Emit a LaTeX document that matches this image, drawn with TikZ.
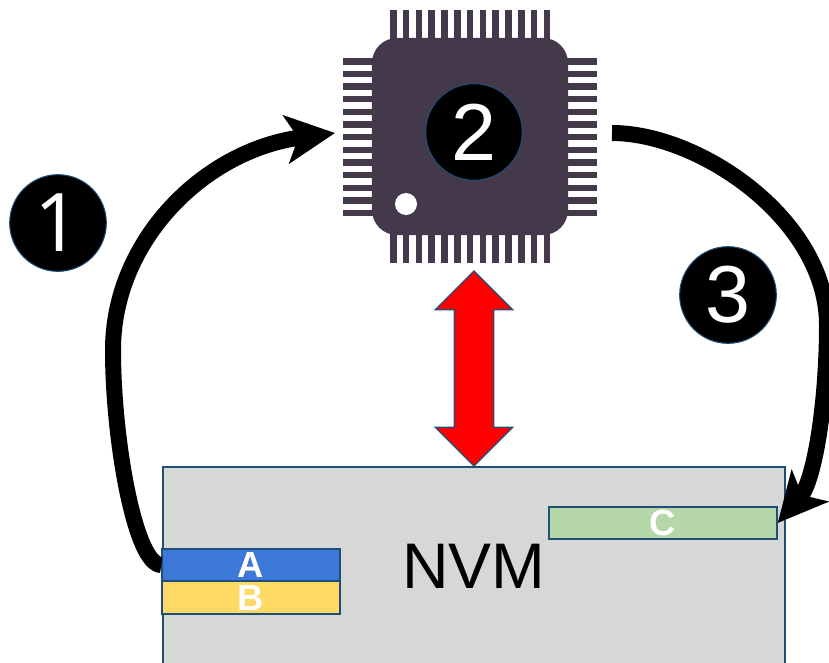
\documentclass[tikz,border=0pt]{standalone}
\usepackage{fontspec}
\setmainfont{Liberation Sans}
\newfontfamily\onefont{Open Sans}
\usepackage{xcolor}
\usetikzlibrary{arrows.meta,shapes.arrows}
\definecolor{edgeblue}{HTML}{1F4E79}
\definecolor{chipgray}{HTML}{43394A}
\definecolor{nvmgray}{HTML}{D6D8D5}
\definecolor{boxa}{HTML}{3C78D8}
\definecolor{boxb}{HTML}{FFD966}
\definecolor{boxc}{HTML}{B6D7A8}
\tikzset{
  numcirc/.style={circle,draw=edgeblue,line width=0.9pt,fill=black,text=white,minimum size=2.9cm,inner sep=0pt,font=\fontsize{69}{69}\selectfont},
  memrow/.style={rectangle,draw=edgeblue,line width=1.2pt,text=white,inner sep=0pt,font=\fontsize{31}{31}\selectfont\bfseries},
  flow/.style={line width=0.48cm,-{Stealth[length=1.47cm,width=1.44cm,inset=0.36cm]}},
}
\begin{document}
\begin{tikzpicture}[x=0.03cm,y=-0.03cm]
\useasboundingbox (0,0) rectangle (829,662);
\clip (0,0) rectangle (829,662);
\node [rectangle,draw=edgeblue,line width=1.2pt,fill=nvmgray,minimum width=18.66cm,minimum height=5.94cm,inner sep=0pt,font=\fontsize{55}{55}\selectfont] (nvm) at (474,566) {NVM};
\node [memrow,fill=boxa,minimum width=5.34cm,minimum height=0.96cm] (a) at (251,565) {A};
\node [memrow,fill=boxb,minimum width=5.34cm,minimum height=0.99cm] (b) at (251,597.5) {B};
\node [memrow,fill=boxc,minimum width=6.84cm,minimum height=0.96cm] (c) at (663,523) {C};
% chip
\foreach\i in {0,...,12}{
  \fill [chipgray] (390+12.8*\i,10) rectangle ++(6.5,30);
  \fill [chipgray] (390+12.8*\i,233) rectangle ++(6.5,30);
  \fill [chipgray] (343,58+12.65*\i) rectangle ++(31,6.5);
  \fill [chipgray] (566,58+12.65*\i) rectangle ++(31,6.5);
}
\node [rectangle,rounded corners=0.75cm,fill=chipgray,minimum width=5.88cm,minimum height=5.91cm,inner sep=0pt] (chip) at (470,136.5) {};
\node [circle,fill=white,minimum size=0.66cm,inner sep=0pt] (dot) at (406,204) {};
\node [numcirc] (circ1) at (58,223) {\onefont 1};
\foreach\i/\x/\y in {2/474/132,3/728/295}
  \node [numcirc] (circ\i) at (\x,\y) {\i};
\node [double arrow,double arrow tip angle=90,double arrow head extend=0.57cm,double arrow head indent=0cm,rotate=90,draw=edgeblue,line width=1.1pt,fill=red,minimum height=5.85cm,inner xsep=0pt,inner ysep=0.57cm] (rw) at (474,368.5) {};
\coordinate (chipin) at (335,133);
\coordinate (chipout) at (612,133);
\draw [flow] (a.west) .. controls (135,565) and (113,440) .. (113,350) .. controls (113,240) and (205,150) .. (chipin);
\draw [flow] (chipout) .. controls (700,133) and (827,220) .. (827,325) .. controls (827,400) and (815,480) .. (c.east);
\end{tikzpicture}
\end{document}
